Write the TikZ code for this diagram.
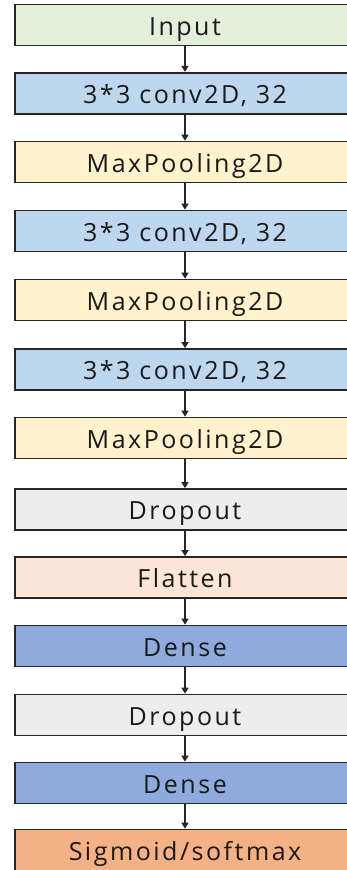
\documentclass[tikz,border=0pt]{standalone}
\usepackage{fontspec}
\setmainfont{Open Sans}[LetterSpace=10]
\usetikzlibrary{arrows.meta}
\definecolor{cInput}{HTML}{E2EFDA}
\definecolor{cConv}{HTML}{BDD7EE}
\definecolor{cPool}{HTML}{FFF2CC}
\definecolor{cDrop}{HTML}{EDEDED}
\definecolor{cFlat}{HTML}{FBE5D6}
\definecolor{cDense}{HTML}{8FAADC}
\definecolor{cOut}{HTML}{F4B183}
\begin{document}
\begin{tikzpicture}[x=1pt,y=1pt,
  layer/.style={draw=black!85, line width=1.6pt, minimum width=340pt, minimum height=41pt,
    inner sep=0pt, text height=20pt, text depth=0pt,
    font=\fontsize{25}{30}\selectfont, text=black!90},
  flow/.style={-{Triangle[length=6pt,width=7pt]}, line width=1.4pt, black!85}]
\useasboundingbox (0,0) rectangle (347,-870);
\def\cx{185}
\node[layer, fill=cInput] (n1)  at (\cx,-25)     {Input};
\node[layer, fill=cConv]  (n2)  at (\cx,-93.2)   {3*3 conv2D, 32};
\node[layer, fill=cPool]  (n3)  at (\cx,-162)    {MaxPooling2D};
\node[layer, fill=cConv]  (n4)  at (\cx,-231)    {3*3 conv2D, 32};
\node[layer, fill=cPool]  (n5)  at (\cx,-300)    {MaxPooling2D};
\node[layer, fill=cConv]  (n6)  at (\cx,-369.5)  {3*3 conv2D, 32};
\node[layer, fill=cPool]  (n7)  at (\cx,-438)    {MaxPooling2D};
\node[layer, fill=cDrop]  (n8)  at (\cx,-509.5)  {Dropout};
\node[layer, fill=cFlat]  (n9)  at (\cx,-577.5)  {Flatten};
\node[layer, fill=cDense] (n10) at (\cx,-646)    {Dense};
\node[layer, fill=cDrop]  (n11) at (\cx,-715)    {Dropout};
\node[layer, fill=cDense] (n12) at (\cx,-783)    {Dense};
\node[layer, fill=cOut]   (n13) at (\cx,-850)    {Sigmoid/softmax};
\foreach \a/\b in {n1/n2,n2/n3,n3/n4,n4/n5,n5/n6,n6/n7,n7/n8,n8/n9,n9/n10,n10/n11,n11/n12,n12/n13}
  \draw[flow] (\a.south) -- (\b.north);
\end{tikzpicture}
\end{document}
